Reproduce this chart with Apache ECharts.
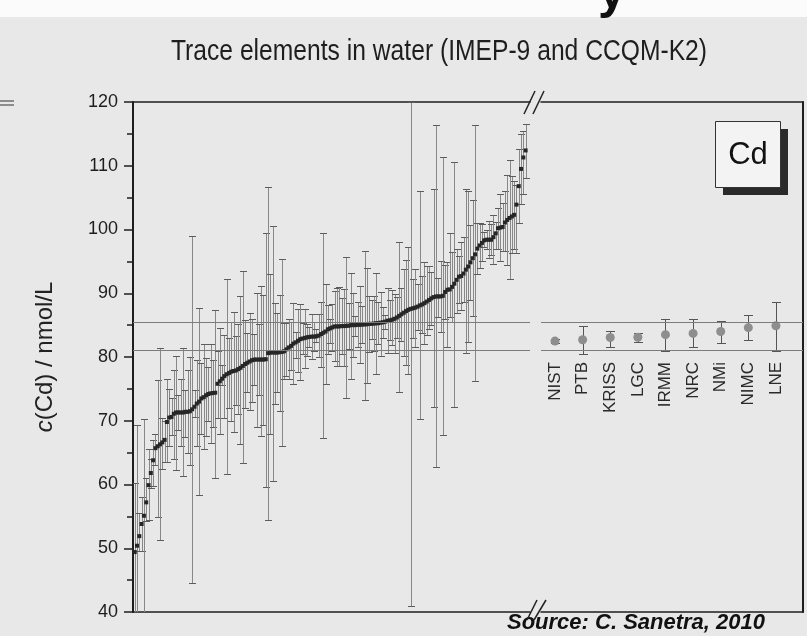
<!DOCTYPE html>
<html><head><meta charset="utf-8">
<script src="https://cdn.jsdelivr.net/npm/echarts@6/dist/echarts.min.js"></script>
<style>html,body{margin:0;padding:0;background:#e8e8e8}#c{width:807px;height:636px}</style>
</head><body><div id="c"></div>
<script>
// ---- Data ----
var labValues = [49.4,50.4,51.9,53.8,55.1,57.2,59.9,61.8,63.8,65.7,
66.0,66.3,66.6,67.0,69.8,70.5,70.6,71.1,71.3,71.3,
71.3,71.3,71.4,71.4,71.5,71.8,72.2,72.7,73.0,73.5,
73.7,74.0,74.2,74.3,74.35,74.4,75.8,76.2,76.6,77.0,
77.3,77.5,77.7,77.8,77.9,78.1,78.3,78.6,78.9,79.1,
79.3,79.5,79.6,79.6,79.6,79.6,79.6,79.65,80.6,80.7,
80.7,80.7,80.7,80.75,80.8,80.9,81.2,81.5,81.75,82.1,
82.3,82.55,82.8,82.9,83.0,83.1,83.15,83.2,83.2,83.25,
83.35,83.6,83.8,84.0,84.35,84.5,84.65,84.8,84.8,84.8,
84.85,84.85,84.9,84.9,85.0,85.0,85.0,85.05,85.05,85.1,
85.1,85.15,85.2,85.2,85.25,85.3,85.3,85.4,85.45,85.55,
85.7,85.75,85.85,86.0,86.2,86.45,86.7,86.95,87.2,87.4,
87.55,87.65,87.75,87.9,88.1,88.25,88.45,88.7,88.95,89.2,
89.4,89.5,89.5,89.5,89.6,90.2,90.55,90.6,91.0,91.5,
92.1,92.6,92.7,93.1,93.7,94.2,94.85,95.5,96.1,97.0,
97.5,97.9,98.3,98.4,98.4,98.4,98.8,99.4,100.2,100.3,
100.4,101.1,101.5,101.8,102.05,102.3,103.9,106.8,109.5,111.3,
112.4];
var labLower = [40.0,40.0,49.6,49.5,40.0,54.2,54.5,59.5,59.7,63.0,
54.9,51.3,62.5,63.5,63.6,66.0,67.8,64.0,62.3,68.5,
66.0,61.3,67.5,65.0,63.0,44.6,70.6,66.0,58.4,68.0,
65.5,67.6,70.0,66.5,69.0,61.0,70.5,68.0,75.6,70.5,
61.6,72.0,70.0,68.3,72.5,71.0,66.3,63.4,72.0,74.5,
71.7,73.0,75.6,69.0,74.0,67.6,69.4,59.6,54.5,68.0,
60.6,72.7,74.5,71.6,66.1,76.5,77.0,76.6,78.0,75.8,
79.8,77.6,76.4,80.5,78.2,80.2,81.6,79.7,80.9,82.4,
80.0,78.5,67.3,75.8,80.5,82.2,81.0,79.3,78.65,78.6,
80.4,78.6,73.5,81.3,76.6,80.0,83.3,81.5,79.0,82.2,
73.3,76.0,80.8,82.9,81.0,77.4,82.0,80.2,83.0,84.4,
80.6,82.6,81.9,80.6,83.0,74.5,82.5,80.1,78.8,77.4,
41.0,83.0,81.6,84.3,70.2,83.8,82.0,83.5,84.4,85.0,
72.1,62.8,86.35,84.0,67.7,86.0,81.6,86.35,85.5,72.1,
86.9,88.5,87.4,88.7,80.6,82.4,89.0,86.5,76.3,93.0,
94.0,95.0,97.2,96.9,95.5,96.0,94.6,96.9,97.0,95.0,
96.6,96.55,94.5,92.3,96.3,97.0,96.3,101.0,104.0,105.6,
108.1];
var labUpper = [60.3,69.3,55.5,58.0,70.2,61.0,65.5,64.0,67.0,68.0,
76.4,81.4,70.5,70.0,76.5,75.0,73.5,78.0,80.2,74.0,
76.5,81.4,74.9,78.0,80.0,99.0,74.8,79.5,87.7,79.0,
82.0,79.8,78.5,82.0,79.5,87.3,81.0,84.5,78.8,83.5,
92.3,83.0,85.5,87.0,83.3,85.2,89.5,93.5,85.8,83.7,
86.9,86.0,83.6,90.1,85.2,91.2,89.8,99.4,106.65,93.0,
100.6,88.5,86.9,89.8,95.35,85.3,85.4,85.9,85.5,88.4,
84.0,87.5,88.3,85.3,87.6,85.2,84.7,86.7,85.5,84.4,
86.7,88.7,99.4,91.4,88.2,85.9,88.3,90.3,90.8,91.0,
89.3,90.6,95.7,88.5,93.1,90.0,86.4,88.6,91.1,88.0,
96.7,93.9,89.6,89.0,89.5,93.1,88.6,90.2,87.9,86.6,
90.8,88.9,90.5,89.9,89.4,98.1,90.9,93.8,95.2,97.3,
120.0,92.3,93.8,91.5,106.0,92.7,94.85,94.2,94.2,93.4,
106.3,116.4,92.4,95.0,111.4,94.4,94.9,99.4,96.5,110.6,
96.9,95.9,98.0,98.8,106.3,106.1,100.7,104.55,116.4,101.0,
101.0,100.8,99.6,99.9,101.3,100.8,102.3,101.25,103.4,105.6,
104.2,106.1,108.5,110.9,108.4,107.6,107.0,112.6,115.0,115.5,
116.6];
var nmiNames  = ['NIST','PTB','KRISS','LGC','IRMM','NRC','NMi','NIMC','LNE'];
var nmiValues = [82.5, 82.7, 83.05, 83.1, 83.5, 83.7, 84.0, 84.6, 84.9];
var nmiLower  = [82.2, 80.5, 81.6, 82.3, 81.0, 81.5, 82.15, 82.6, 81.0];
var nmiUpper  = [82.8, 84.9, 84.1, 83.8, 85.9, 85.9, 85.7, 86.6, 88.7];
var refLines  = [85.4, 81.0];

// ---- Build ----
var FONT = '"Liberation Sans", Arial, sans-serif';
var labBars = labValues.map(function(v,i){return [i, labLower[i], labUpper[i]];});
var labPts  = labValues.map(function(v,i){return [i, v];});
var nmiBars = nmiValues.map(function(v,i){return [i, nmiLower[i], nmiUpper[i]];});
var nmiPts  = nmiValues.map(function(v,i){return [i, v];});

function errRender(capW, lineColor, capColor){
  return function(params, api){
    var x = api.value(0);
    var pLo = api.coord([x, api.value(1)]);
    var pHi = api.coord([x, api.value(2)]);
    var cx = Math.round(pLo[0]) + 0.5;
    var yl = Math.round(pLo[1]) + 0.5, yh = Math.round(pHi[1]) + 0.5;
    var h = capW/2;
    return {type:'group', children:[
      {type:'line', shape:{x1:cx,y1:yl,x2:cx,y2:yh}, style:{stroke:lineColor,lineWidth:1}},
      {type:'line', shape:{x1:cx-h,y1:yh,x2:cx+h,y2:yh}, style:{stroke:capColor,lineWidth:1}},
      {type:'line', shape:{x1:cx-h,y1:yl,x2:cx+h,y2:yl}, style:{stroke:capColor,lineWidth:1}}
    ]};
  };
}
var frameLine = {show:true,onZero:false,lineStyle:{color:'#1e1e1e',width:1.5}};
function frameX(grid,pos,min,max){
  return {gridIndex:grid,type:'value',position:pos,min:min,max:max,axisLine:frameLine,
    axisTick:{show:false},axisLabel:{show:false},splitLine:{show:false}};
}
var markLineOpt = {silent:true,symbol:['none','none'],label:{show:false},animation:false,
  lineStyle:{color:'#7c7c7c',width:1,type:'solid'},
  emphasis:{disabled:true},
  data:refLines.map(function(v){return {yAxis:v};})};

var chart = echarts.init(document.getElementById('c'), null, {renderer:'canvas'});
chart.setOption({
  backgroundColor:'#e8e8e8',
  animation:false,
  textStyle:{fontFamily:FONT},
  grid:[
    {left:133, top:102, width:397, height:510},
    {left:541, top:102, width:262, height:510},
    {left:555, top:102, width:221, height:254}
  ],
  xAxis:[
    frameX(0,'bottom',-0.75,171.9),
    frameX(0,'top',0,1),
    frameX(1,'bottom',-0.507,8.98),
    frameX(1,'top',0,1),
    {gridIndex:2,type:'value',min:0,max:8,interval:1,position:'bottom',
      axisLine:{show:false},axisTick:{show:false},splitLine:{show:false},
      axisLabel:{rotate:90,margin:6,fontSize:17,color:'#2a2a2a',fontFamily:FONT,
        showMinLabel:true,showMaxLabel:true,
        formatter:function(v){return nmiNames[v]||'';}}}
  ],
  yAxis:[
    {gridIndex:0,type:'value',min:40,max:120,interval:10,position:'left',
      axisLine:{show:true,onZero:false,lineStyle:{color:'#1e1e1e',width:2}},
      axisTick:{show:true,length:9,lineStyle:{color:'#1e1e1e',width:1.5}},
      minorTick:{show:true,splitNumber:2,length:6,lineStyle:{color:'#1e1e1e',width:1.5}},
      axisLabel:{fontSize:18,color:'#1e1e1e',margin:15,fontFamily:FONT},
      splitLine:{show:false},
      name:'{i|c}(Cd) / nmol/L', nameLocation:'middle', nameGap:76,
      nameTextStyle:{fontSize:24,color:'#222',fontFamily:FONT,
        rich:{i:{fontStyle:'italic',fontSize:24,color:'#222',fontFamily:FONT}}}},
    {gridIndex:1,type:'value',min:40,max:120,position:'right',
      axisLine:{show:true,onZero:false,lineStyle:{color:'#1e1e1e',width:2}},
      axisTick:{show:false},axisLabel:{show:false},splitLine:{show:false}},
    {gridIndex:2,type:'value',min:0,max:1,show:false}
  ],
  series:[
    {type:'custom',name:'lab bars',xAxisIndex:0,yAxisIndex:0,clip:true,z:2,
      renderItem:errRender(7,'#888','#5c5c5c'),encode:{x:0,y:[1,2]},data:labBars},
    {type:'scatter',name:'labs',xAxisIndex:0,yAxisIndex:0,z:4,symbol:'rect',symbolSize:4,
      itemStyle:{color:'#262626',opacity:1},data:labPts,markLine:markLineOpt},
    {type:'custom',name:'nmi bars',xAxisIndex:2,yAxisIndex:1,clip:true,z:2,
      renderItem:errRender(9,'#555','#555'),encode:{x:0,y:[1,2]},data:nmiBars},
    {type:'scatter',name:'nmi',xAxisIndex:2,yAxisIndex:1,z:4,symbol:'circle',symbolSize:9,
      itemStyle:{color:'#8e8e8e',opacity:1},data:nmiPts,markLine:markLineOpt}
  ],
  graphic:[
    {type:'rect',silent:true,z:0,shape:{x:0,y:0,width:807,height:17},style:{fill:'#fbfbfb'}},
    {type:'text',silent:true,z:1,x:598,y:19,style:{text:'y',font:'bold 50px "Liberation Sans"',fill:'#111',align:'left',verticalAlign:'bottom'}},
    {type:'text',silent:true,x:439,y:52,scaleX:0.85,style:{text:'Trace elements in water (IMEP-9 and CCQM-K2)',
      font:'29px "Liberation Sans"',fill:'#1e1e1e',align:'center',verticalAlign:'middle'}},
    {type:'text',silent:true,x:507,y:623,style:{text:'Source: C. Sanetra, 2010',
      font:'italic bold 22px "Liberation Sans"',fill:'#111',align:'left',verticalAlign:'middle'}},
    // Cd box with shadow
    {type:'rect',silent:true,z:50,shape:{x:723,y:129,width:65,height:66},style:{fill:'#2a2a2a'}},
    {type:'rect',silent:true,z:51,shape:{x:715.5,y:121.5,width:65,height:66},style:{fill:'#f3f3f3',stroke:'#333',lineWidth:1}},
    {type:'text',silent:true,z:52,x:748,y:155,style:{text:'Cd',font:'31px "Liberation Sans"',fill:'#111',align:'center',verticalAlign:'middle'}},
    // axis break marks
    {type:'line',silent:true,z:60,shape:{x1:524,y1:114,x2:535,y2:91},style:{stroke:'#222',lineWidth:1.5}},
    {type:'line',silent:true,z:60,shape:{x1:533,y1:114,x2:544,y2:91},style:{stroke:'#222',lineWidth:1.5}},
    {type:'line',silent:true,z:60,shape:{x1:527,y1:620,x2:537,y2:600},style:{stroke:'#222',lineWidth:1.5}},
    {type:'line',silent:true,z:60,shape:{x1:534,y1:620,x2:546,y2:600},style:{stroke:'#222',lineWidth:1.5}},
    {type:'line',silent:true,shape:{x1:0,y1:101,x2:14,y2:101},style:{stroke:'#333',lineWidth:1}},
    {type:'line',silent:true,shape:{x1:0,y1:105,x2:14,y2:105},style:{stroke:'#333',lineWidth:1}}
  ]
});
</script></body></html>
